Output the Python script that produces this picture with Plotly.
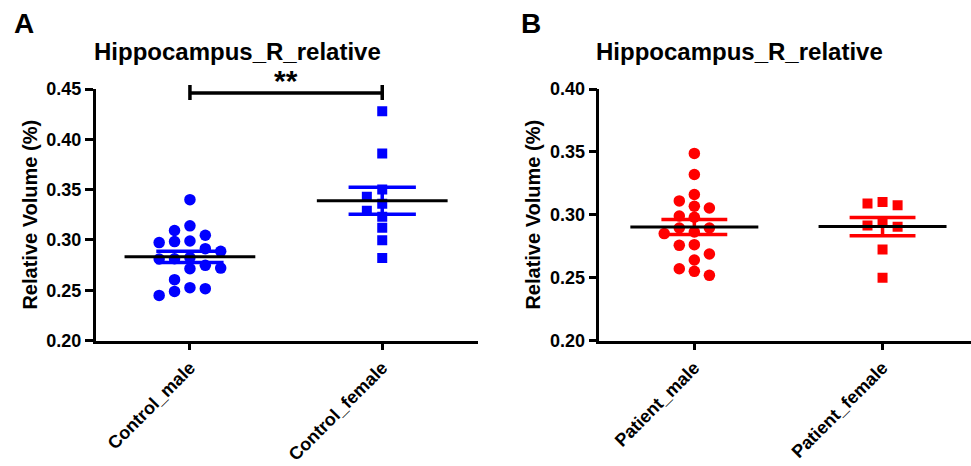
import numpy as np
import plotly.graph_objects as go

# ---------------- data ----------------
categories_a = ["Control_male", "Control_female"]
categories_b = ["Patient_male", "Patient_female"]

control_male = [0.340, 0.314, 0.3093, 0.3046, 0.2989, 0.2983, 0.2973, 0.2913,
                0.2886, 0.2825, 0.2813, 0.281, 0.2747, 0.272, 0.2714, 0.2605,
                0.2525, 0.2515, 0.2488, 0.2448]
control_female = [0.428, 0.386, 0.350, 0.343, 0.336, 0.329, 0.323, 0.312,
                  0.2996, 0.282]
patient_male = [0.3488, 0.332, 0.3161, 0.311, 0.3068, 0.3054, 0.299, 0.298,
                0.2895, 0.2895, 0.2863, 0.285, 0.2762, 0.2757, 0.2688, 0.264,
                0.2571, 0.255, 0.2518]
patient_female = [0.3102, 0.3089, 0.3076, 0.2935, 0.2915, 0.2905, 0.2723,
                  0.250]

yticks_a = [0.20, 0.25, 0.30, 0.35, 0.40, 0.45]
yticks_b = [0.20, 0.25, 0.30, 0.35, 0.40]
panel_title = "Hippocampus_R_relative"
y_title = "Relative Volume (%)"
significance = "**"
panel_letters = ["A", "B"]

# ---------------- styles ----------------
W, H = 971, 466
FONT = "Liberation Sans, Arial, sans-serif"
BLUE = "#0000FF"
RED = "#FF0000"
dom_y = [1 - 340.5 / H, 1 - 89 / H]
dom_xa = [95.7 / W, 478 / W]
dom_xb = [599.3 / W, 1.0]
range_a = [0.20, 0.45]
range_b = [0.20, 0.40]
dom_h_px = (dom_y[1] - dom_y[0]) * H
COL_STEP = 0.08
MEAN_HALF = 0.34
SEM_HALF = 0.175


def swarm(values, marker_px, yrange):
    gap = marker_px * (yrange[1] - yrange[0]) / dom_h_px
    placed = {}
    res = [0.0] * len(values)
    order = sorted(range(len(values)), key=lambda i: -values[i])
    for i in order:
        v = values[i]
        k = 0
        for cand in [0, -1, 1, -2, 2, -3, 3, -4, 4]:
            if all(abs(v - u) >= gap for u in placed.get(cand, [])):
                k = cand
                break
        placed.setdefault(k, []).append(v)
        res[i] = k * COL_STEP
    return res


fig = go.Figure()

groups = [
    (control_male, 0, "circle", 11.5, BLUE, "x", "y", range_a),
    (control_female, 1, "square", 10, BLUE, "x", "y", range_a),
    (patient_male, 0, "circle", 11.5, RED, "x2", "y2", range_b),
    (patient_female, 1, "square", 10, RED, "x2", "y2", range_b),
]

# points
for vals, c, sym, size, col, xa, ya, yr in groups:
    offs = swarm(vals, 11, yr)
    fig.add_trace(go.Scatter(
        x=[c + o for o in offs], y=vals, mode="markers",
        marker=dict(symbol=sym, size=size, color=col, line=dict(width=0)),
        xaxis=xa, yaxis=ya, showlegend=False, hoverinfo="y"))

# SEM bars
for vals, c, sym, size, col, xa, ya, yr in groups:
    m = float(np.mean(vals))
    s = float(np.std(vals, ddof=1) / np.sqrt(len(vals)))
    fig.add_trace(go.Scatter(
        x=[c - SEM_HALF, c + SEM_HALF, None, c - SEM_HALF, c + SEM_HALF, None, c, c],
        y=[m + s, m + s, None, m - s, m - s, None, m - s, m + s],
        mode="lines", line=dict(color=col, width=3.5),
        xaxis=xa, yaxis=ya, showlegend=False, hoverinfo="skip"))

# mean lines
for vals, c, sym, size, col, xa, ya, yr in groups:
    m = float(np.mean(vals))
    fig.add_trace(go.Scatter(
        x=[c - MEAN_HALF, c + MEAN_HALF], y=[m, m],
        mode="lines", line=dict(color="black", width=3),
        xaxis=xa, yaxis=ya, showlegend=False, hoverinfo="skip"))

tickfont = dict(family=FONT, size=18, color="black", weight="bold")
common_x = dict(tickvals=[0, 1], tickangle=-45, ticks="outside", ticklen=7,
                tickwidth=2.5, tickcolor="black", showline=True, linewidth=2.5,
                linecolor="black", showgrid=False, zeroline=False,
                tickfont=tickfont, automargin=False)
common_y = dict(ticks="outside", ticklen=8, tickwidth=2.5, tickcolor="black",
                showline=True, linewidth=2.5, linecolor="black",
                showgrid=False, zeroline=False, tickformat=".2f",
                tickfont=tickfont, automargin=False,
                title=dict(text=y_title, standoff=4,
                           font=dict(family=FONT, size=20, color="black",
                                     weight="bold")))

fig.update_layout(
    template="none",
    width=W, height=H, margin=dict(l=0, r=0, t=0, b=0, autoexpand=False),
    paper_bgcolor="white", plot_bgcolor="white",
    xaxis=dict(domain=dom_xa, range=[-0.49, 1.498], ticktext=categories_a,
               anchor="y", **common_x),
    yaxis=dict(domain=dom_y, range=range_a, tickvals=yticks_a, anchor="x",
               **common_y),
    xaxis2=dict(domain=dom_xb, range=[-0.505, 1.47], ticktext=categories_b,
                anchor="y2", **common_x),
    yaxis2=dict(domain=dom_y, range=range_b, tickvals=yticks_b, anchor="x2",
                **common_y),
)

# significance bracket (x from categories, y as style constants in paper units)
br_y = 1 - 93 / H
br_top = 1 - 85 / H
br_bot = 1 - 100 / H
for x0, y0, x1, y1 in [(0, br_y, 1, br_y), (0, br_bot, 0, br_top), (1, br_bot, 1, br_top)]:
    fig.add_shape(type="line", xref="x", yref="paper", x0=x0, x1=x1, y0=y0, y1=y1,
                  line=dict(color="black", width=3.5))
fig.add_annotation(text=significance, xref="x", yref="paper", x=0.5,
                   y=1 - 80 / H, yanchor="middle", showarrow=False,
                   font=dict(family=FONT, size=30, color="black", weight="bold"))

# titles and panel letters
for letter, lx, tx in [("A", 12, 237), ("B", 519, 739.5)]:
    fig.add_annotation(text=letter, xref="paper", yref="paper", x=lx / W,
                       y=1 - 23 / H, xanchor="left", yanchor="middle",
                       showarrow=False,
                       font=dict(family=FONT, size=28, color="black", weight="bold"))
    fig.add_annotation(text=panel_title, xref="paper", yref="paper", x=tx / W,
                       y=1 - 51.7 / H, xanchor="center", yanchor="middle",
                       showarrow=False,
                       font=dict(family=FONT, size=24, color="black", weight="bold"))

fig.write_html("out.html",
               config={"displayModeBar": False},
               post_script="document.body.style.margin='0';document.body.style.padding='0';document.body.style.overflow='hidden';")
